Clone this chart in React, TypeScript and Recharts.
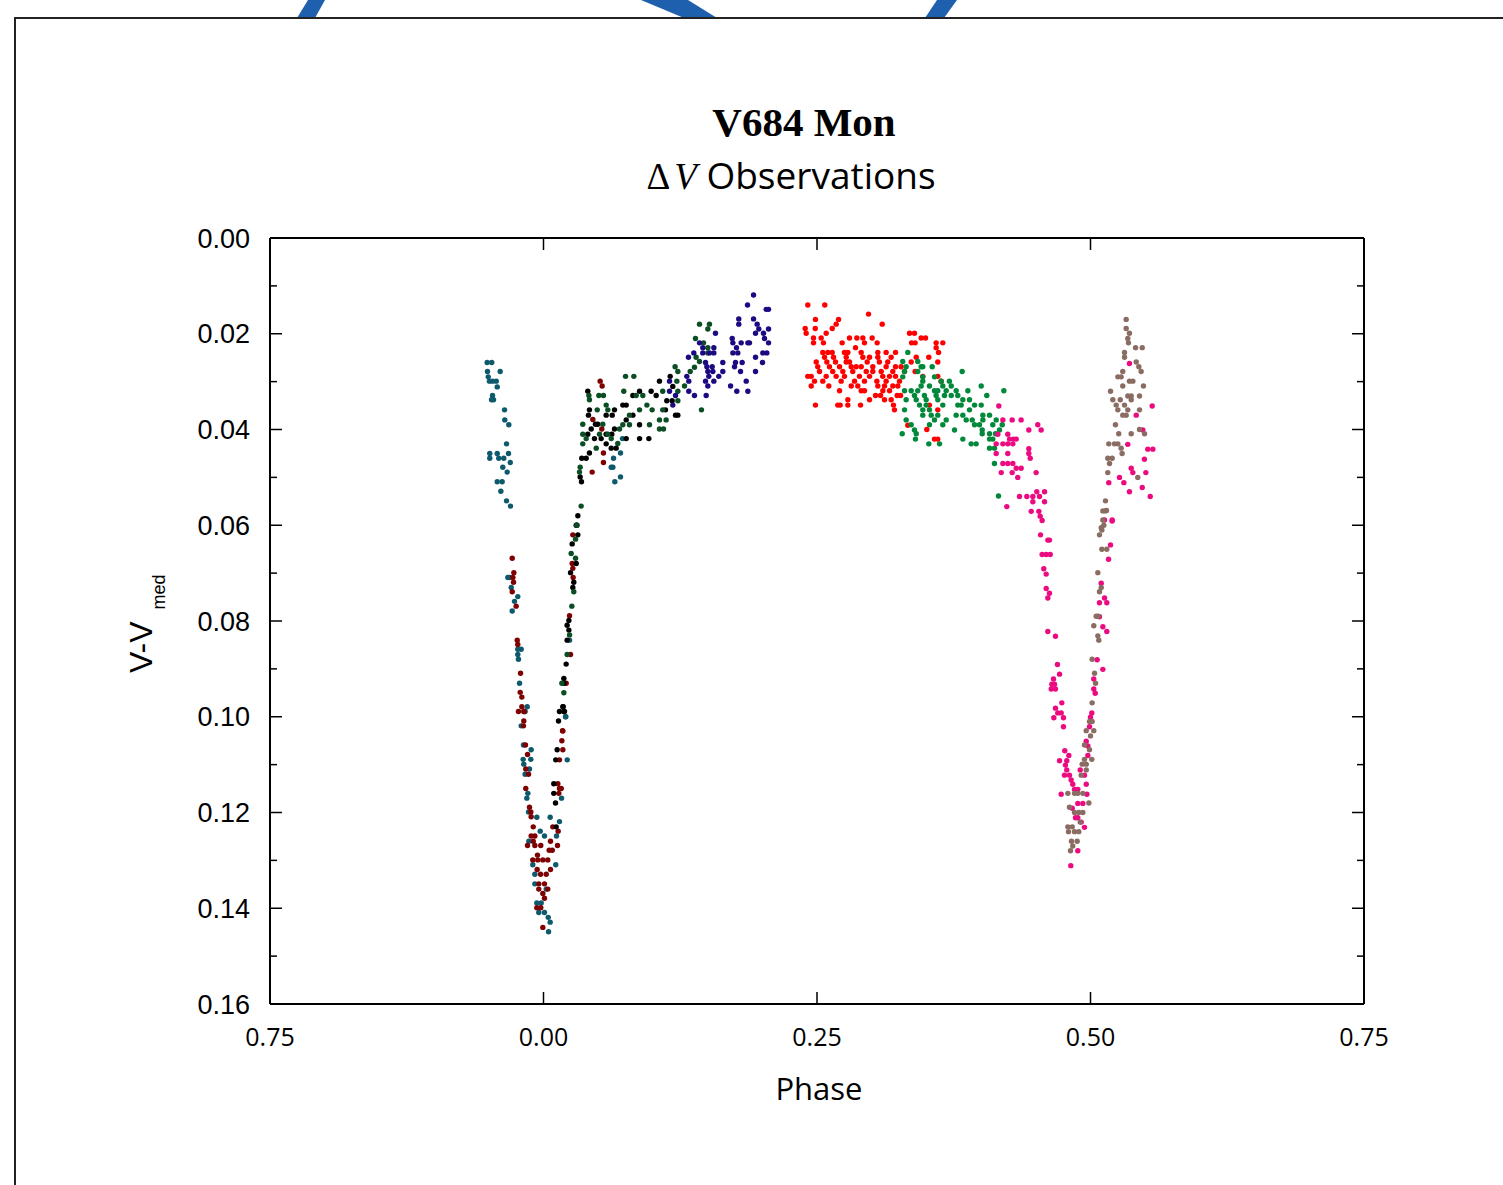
import React from 'react';
import { Scatter, ScatterChart, XAxis, YAxis } from 'recharts';

// phase axis wraps: -0.25 is shown as 0.75
const xTicks = [-0.25, 0, 0.25, 0.5, 0.75];
const xTickLabels = ['0.75', '0.00', '0.25', '0.50', '0.75'];
const yTicks = [0, 0.01, 0.02, 0.03, 0.04, 0.05, 0.06, 0.07, 0.08, 0.09, 0.1, 0.11, 0.12, 0.13, 0.14, 0.15, 0.16];
const yTickLabels = ['0.00', '', '0.02', '', '0.04', '', '0.06', '', '0.08', '', '0.10', '', '0.12', '', '0.14', '', '0.16'];

type Pt = [number, number];

const tealPts: Pt[] = [
  [-0.0515, 0.026], [-0.0473, 0.026], [-0.0512, 0.0279], [-0.0396, 0.0279], [-0.0505, 0.029], [-0.0494, 0.0299],
  [-0.0466, 0.0299], [-0.0432, 0.0299], [-0.0423, 0.0311], [-0.0466, 0.0329], [-0.0457, 0.0338], [-0.0475, 0.0338],
  [-0.0356, 0.0359], [-0.0354, 0.038], [-0.0317, 0.039], [-0.0338, 0.043], [-0.0491, 0.045], [-0.0423, 0.045],
  [-0.032, 0.045], [-0.0491, 0.046], [-0.0409, 0.046], [-0.0363, 0.046], [-0.0304, 0.0469], [-0.0372, 0.0479],
  [-0.0332, 0.0489], [-0.0423, 0.0509], [-0.0378, 0.0509], [-0.039, 0.0529], [-0.0338, 0.0549], [-0.0302, 0.056],
  [0.0722, 0.0419], [0.0704, 0.0449], [0.064, 0.046], [0.0619, 0.0479], [0.0634, 0.0479], [0.0652, 0.0509], [0.0704, 0.0499],
  [-0.0326, 0.0709], [-0.0311, 0.0709], [-0.0295, 0.073], [-0.0235, 0.0749], [-0.0265, 0.0759], [-0.0286, 0.0779],
  [-0.0235, 0.0859], [-0.0204, 0.0859], [-0.0235, 0.087], [-0.0229, 0.088], [-0.0219, 0.093], [-0.0149, 0.0979],
  [-0.0204, 0.1019], [-0.0168, 0.0989], [-0.0183, 0.1059], [-0.0113, 0.1069], [-0.0186, 0.1089], [-0.0116, 0.1089],
  [-0.018, 0.1099], [-0.0128, 0.1109], [-0.0168, 0.112], [-0.0143, 0.116], [-0.0152, 0.117], [-0.0137, 0.1199],
  [-0.0061, 0.121], [0.0061, 0.121], [-0.003, 0.1239], [0.0009, 0.1249], [-0.0134, 0.126], [0.0119, 0.1249],
  [0.0146, 0.1219], [-0.0098, 0.1309], [0.0112, 0.1309], [-0.0079, 0.1329], [-0.0079, 0.1349], [0.0025, 0.136],
  [-0.0061, 0.1389], [-0.0021, 0.1389], [-0.0043, 0.1409], [0.0009, 0.1409], [0.0043, 0.1419], [0.0061, 0.1429],
  [0.0046, 0.1449], [0.0204, 0.1], [0.0217, 0.109], [0.0165, 0.117], [0.0238, 0.084], [0.0201, 0.1],
];

const darkRedPts: Pt[] = [
  [-0.0286, 0.0669], [-0.0271, 0.0699], [-0.028, 0.0709], [-0.0274, 0.0719], [-0.0286, 0.0739], [-0.025, 0.0769],
  [-0.024, 0.084], [-0.0235, 0.0849], [-0.021, 0.0909], [-0.0213, 0.0949], [-0.0198, 0.0959], [-0.0198, 0.0979],
  [-0.0229, 0.0989], [-0.018, 0.0989], [-0.018, 0.1009], [-0.0183, 0.1019], [-0.0177, 0.0989], [-0.0165, 0.1059],
  [-0.0146, 0.1079], [-0.0162, 0.1109], [-0.0137, 0.112], [-0.0162, 0.115], [-0.0128, 0.1189], [-0.0116, 0.1199],
  [-0.0113, 0.1209], [-0.0094, 0.123], [-0.0113, 0.1249], [-0.0079, 0.1249], [-0.0094, 0.126], [-0.0146, 0.1269],
  [-0.0079, 0.1269], [-0.0025, 0.1269], [0.0064, 0.126], [0.0052, 0.1279], [0.008, 0.1279], [0.0128, 0.1269],
  [-0.0055, 0.1289], [-0.0098, 0.1299], [-0.0052, 0.1299], [-0.0006, 0.1299], [0.0039, 0.1299], [-0.0058, 0.1319],
  [0.0064, 0.1319], [-0.0027, 0.1329], [0.0025, 0.1329], [-0.0043, 0.1349], [0.0009, 0.1349], [-0.0043, 0.136],
  [0.0039, 0.136], [-0.0006, 0.1369], [0.0009, 0.1379], [-0.0061, 0.1399], [-0.0025, 0.1399], [-0.0006, 0.144],
  [0.0268, 0.062], [0.0262, 0.068], [0.0268, 0.069], [0.0271, 0.0709], [0.0238, 0.0789], [0.0247, 0.087],
  [0.0207, 0.093], [0.0174, 0.1029], [0.0177, 0.103], [0.0168, 0.105], [0.0177, 0.1069], [0.0146, 0.109],
  [0.0131, 0.114], [0.0146, 0.115], [0.0162, 0.115], [0.014, 0.116], [0.0085, 0.123], [0.0134, 0.1239],
  [0.0518, 0.0299], [0.0536, 0.0309], [0.0451, 0.0379], [0.0533, 0.0399], [0.0548, 0.0449], [0.0548, 0.0469], [0.0445, 0.0489],
];

const blackPts: Pt[] = [
  [0.0305, 0.06], [0.0314, 0.062], [0.0262, 0.0639], [0.0299, 0.068], [0.0247, 0.0699], [0.0277, 0.0719],
  [0.0268, 0.073], [0.0232, 0.0799], [0.0216, 0.0809], [0.0232, 0.0819], [0.0216, 0.084], [0.0207, 0.089],
  [0.0186, 0.092], [0.0186, 0.093], [0.0177, 0.0979], [0.0146, 0.0989], [0.0186, 0.0989], [0.0137, 0.1009],
  [0.018, 0.0979], [0.0192, 0.0989], [0.0125, 0.1069], [0.0112, 0.109], [0.0094, 0.114], [0.0094, 0.116],
  [0.011, 0.118], [0.0116, 0.123],
  [0.0405, 0.032], [0.042, 0.0359], [0.0411, 0.037], [0.0475, 0.0389], [0.0496, 0.0389], [0.0573, 0.037],
  [0.0628, 0.037], [0.0649, 0.0359], [0.0725, 0.0349], [0.0756, 0.0349], [0.0817, 0.0329], [0.0878, 0.032],
  [0.0984, 0.032], [0.106, 0.0299], [0.103, 0.0329], [0.1158, 0.0289], [0.1182, 0.031], [0.1176, 0.034],
  [0.1127, 0.034], [0.1207, 0.037], [0.1228, 0.037], [0.1115, 0.0359], [0.0878, 0.039], [0.0817, 0.037],
  [0.0756, 0.038], [0.0649, 0.0399], [0.0573, 0.041], [0.0624, 0.041], [0.0527, 0.0419], [0.0573, 0.043],
  [0.0756, 0.0419], [0.0878, 0.0419], [0.0963, 0.0419], [0.0619, 0.0439], [0.0664, 0.0439], [0.042, 0.0449],
  [0.035, 0.046], [0.039, 0.046], [0.0335, 0.0499], [0.0347, 0.0509], [0.0436, 0.0399], [0.0405, 0.041],
  [0.0466, 0.0419], [0.0314, 0.058], [0.0299, 0.06],
];

const darkGreenPts: Pt[] = [
  [0.1426, 0.018], [0.1517, 0.018], [0.1502, 0.019], [0.1389, 0.021], [0.1463, 0.0219], [0.1502, 0.0229],
  [0.1502, 0.024], [0.1395, 0.0249], [0.1426, 0.0258], [0.1341, 0.0279], [0.138, 0.027], [0.1203, 0.0269],
  [0.1228, 0.0279], [0.1219, 0.0299], [0.1289, 0.0309], [0.109, 0.032], [0.1228, 0.032], [0.1228, 0.034],
  [0.1444, 0.0359], [0.109, 0.0359], [0.106, 0.038], [0.1121, 0.038], [0.106, 0.0399], [0.1097, 0.0399],
  [0.0993, 0.0359], [0.0945, 0.0349], [0.0969, 0.039], [0.0878, 0.0359], [0.0847, 0.0329], [0.0908, 0.0329],
  [0.0734, 0.032], [0.075, 0.0289], [0.0826, 0.0289], [0.0786, 0.037], [0.0786, 0.039], [0.0725, 0.039],
  [0.0695, 0.0399], [0.0573, 0.0349], [0.0588, 0.0359], [0.0491, 0.0359], [0.0506, 0.0329], [0.0548, 0.0329],
  [0.0415, 0.0329], [0.042, 0.0338], [0.0359, 0.0389], [0.0359, 0.041], [0.039, 0.0419], [0.0359, 0.043],
  [0.0482, 0.0439], [0.0588, 0.041], [0.0619, 0.0419], [0.0542, 0.0389], [0.0679, 0.0429], [0.0512, 0.041],
  [0.0335, 0.0479], [0.0329, 0.0489], [0.0344, 0.056],
  [0.0305, 0.06], [0.0293, 0.0629], [0.0253, 0.0659], [0.0293, 0.0669], [0.0277, 0.0739], [0.0259, 0.0769],
  [0.0238, 0.0829], [0.0216, 0.087], [0.0168, 0.093], [0.0186, 0.095],
];

const navyPts: Pt[] = [
  [0.192, 0.0119], [0.1865, 0.014], [0.2036, 0.0149], [0.2057, 0.0149], [0.1785, 0.0169], [0.192, 0.0169],
  [0.1953, 0.018], [0.1785, 0.018], [0.1968, 0.019], [0.2057, 0.019], [0.1572, 0.0199], [0.1938, 0.0199],
  [0.2011, 0.0199], [0.1725, 0.021], [0.202, 0.021], [0.1731, 0.0219], [0.1807, 0.0219], [0.1868, 0.0219],
  [0.1883, 0.0219], [0.2057, 0.0219], [0.1426, 0.0219], [0.1456, 0.0229], [0.1764, 0.0229], [0.1557, 0.0229],
  [0.1374, 0.024], [0.1456, 0.024], [0.1517, 0.024], [0.1557, 0.024], [0.1731, 0.024], [0.1776, 0.024],
  [0.2005, 0.024], [0.2041, 0.024], [0.1325, 0.0249], [0.1938, 0.0249], [0.1481, 0.026], [0.1639, 0.026],
  [0.1755, 0.026], [0.1816, 0.026], [0.2002, 0.026], [0.1493, 0.0269], [0.1542, 0.0269], [0.1746, 0.0269],
  [0.1502, 0.0279], [0.1548, 0.0279], [0.1639, 0.0279], [0.1801, 0.0279], [0.1938, 0.0279], [0.131, 0.0289],
  [0.1511, 0.0289], [0.1602, 0.0289], [0.1481, 0.0299], [0.1557, 0.0299], [0.1853, 0.0299], [0.1152, 0.0299],
  [0.1328, 0.0299], [0.1502, 0.0309], [0.171, 0.0309], [0.1767, 0.032], [0.1868, 0.032], [0.1328, 0.032],
  [0.1152, 0.032], [0.138, 0.0329], [0.1487, 0.0329], [0.1207, 0.0329], [0.1182, 0.0349],
];

const redPts: Pt[] = [
  [0.2416, 0.014], [0.2571, 0.014], [0.2971, 0.0159], [0.2486, 0.017], [0.2697, 0.017], [0.2675, 0.018],
  [0.3096, 0.018], [0.2392, 0.0189], [0.2484, 0.0189], [0.2639, 0.0189], [0.2401, 0.0199], [0.2584, 0.0199],
  [0.3346, 0.0199], [0.3391, 0.0199], [0.2468, 0.0209], [0.2538, 0.0209], [0.2797, 0.0209], [0.2864, 0.0209],
  [0.2919, 0.0209], [0.3004, 0.0209], [0.3452, 0.0209], [0.3492, 0.0209],
  [0.2468, 0.0219], [0.2559, 0.0219], [0.273, 0.0219], [0.2934, 0.0219], [0.305, 0.0219], [0.3364, 0.0219],
  [0.3397, 0.0219], [0.3589, 0.0219], [0.365, 0.0219], [0.2852, 0.0229], [0.3589, 0.0229],
  [0.2553, 0.0239], [0.2599, 0.0239], [0.2639, 0.0239], [0.2751, 0.0239], [0.2782, 0.0239], [0.2904, 0.0239],
  [0.3056, 0.0239], [0.3132, 0.0239], [0.3218, 0.0239], [0.3611, 0.0239],
  [0.2569, 0.0249], [0.2651, 0.0249], [0.2767, 0.0249], [0.2919, 0.0249], [0.298, 0.0249], [0.3056, 0.0249],
  [0.3178, 0.0249], [0.3407, 0.0249], [0.3522, 0.0249],
  [0.2493, 0.0259], [0.259, 0.0259], [0.2669, 0.0259], [0.2767, 0.0259], [0.2797, 0.0259], [0.2959, 0.0259],
  [0.307, 0.0259], [0.3147, 0.0259], [0.3361, 0.0259], [0.3604, 0.0259],
  [0.2507, 0.0269], [0.2614, 0.0269], [0.2706, 0.0269], [0.2813, 0.0269], [0.2858, 0.0269], [0.2904, 0.0269],
  [0.301, 0.0269], [0.3132, 0.0269], [0.3218, 0.0269], [0.3269, 0.0269],
  [0.2523, 0.0279], [0.2644, 0.0279], [0.2736, 0.0279], [0.2827, 0.0279], [0.295, 0.0279], [0.301, 0.0279],
  [0.3087, 0.0279], [0.3193, 0.0279], [0.33, 0.0279], [0.3397, 0.0279],
  [0.2416, 0.0289], [0.2447, 0.0289], [0.2584, 0.0289], [0.2675, 0.0289], [0.2751, 0.0289], [0.2888, 0.0289],
  [0.298, 0.0289], [0.3101, 0.0289], [0.3163, 0.0289], [0.3218, 0.0289], [0.3467, 0.0289], [0.3604, 0.0289],
  [0.2477, 0.0299], [0.2553, 0.0299], [0.2721, 0.0299], [0.2843, 0.0299], [0.2934, 0.0299], [0.3047, 0.0299],
  [0.3132, 0.0299], [0.3254, 0.0299], [0.3635, 0.0299],
  [0.2447, 0.0309], [0.2608, 0.0309], [0.2813, 0.0309], [0.2873, 0.0309], [0.3056, 0.0309], [0.3117, 0.0309],
  [0.3193, 0.0309], [0.3239, 0.0309],
  [0.2706, 0.0319], [0.2904, 0.0319], [0.2934, 0.0319], [0.3102, 0.0319], [0.3163, 0.0319],
  [0.3035, 0.0329], [0.3081, 0.0329], [0.3233, 0.0329], [0.3264, 0.0329],
  [0.2782, 0.0338], [0.298, 0.0338], [0.3117, 0.0338], [0.3178, 0.0338],
  [0.2486, 0.0349], [0.269, 0.0349], [0.2712, 0.0349], [0.2782, 0.0349], [0.2898, 0.0349], [0.3199, 0.0349], [0.3528, 0.0349],
  [0.3208, 0.0359], [0.3604, 0.0359], [0.333, 0.0391], [0.3504, 0.04], [0.3574, 0.042], [0.3604, 0.042],
];

const greenPts: Pt[] = [
  [0.333, 0.0239], [0.3284, 0.0258], [0.3421, 0.0258],
  [0.3315, 0.0269], [0.3452, 0.0269], [0.3467, 0.0269], [0.3553, 0.0269],
  [0.33, 0.0279], [0.3421, 0.0279], [0.3827, 0.0279],
  [0.3284, 0.029], [0.3467, 0.029], [0.3574, 0.029],
  [0.3467, 0.0299], [0.371, 0.0299], [0.3635, 0.0299],
  [0.3452, 0.0309], [0.3528, 0.0309], [0.365, 0.0309], [0.3727, 0.0309], [0.4001, 0.0309],
  [0.33, 0.0319], [0.3361, 0.0319], [0.3421, 0.0319], [0.3574, 0.0319], [0.3604, 0.0319], [0.3681, 0.0319],
  [0.3772, 0.0319], [0.3879, 0.0319], [0.4208, 0.0319],
  [0.3391, 0.0329], [0.3482, 0.0329], [0.3589, 0.0329], [0.3665, 0.0329], [0.3727, 0.0329], [0.3787, 0.0329], [0.4052, 0.0329],
  [0.3315, 0.0338], [0.3407, 0.0338], [0.3498, 0.0338], [0.3604, 0.0338], [0.3833, 0.0338], [0.3894, 0.0338],
  [0.3437, 0.0349], [0.3498, 0.0349], [0.365, 0.0349], [0.3787, 0.0349], [0.3818, 0.0349], [0.394, 0.0349], [0.4001, 0.0349],
  [0.33, 0.0359], [0.3467, 0.0359], [0.3528, 0.0359], [0.3894, 0.0359],
  [0.3467, 0.037], [0.3544, 0.037], [0.3604, 0.037], [0.3772, 0.037], [0.3833, 0.037], [0.4016, 0.037], [0.4077, 0.037],
  [0.3315, 0.038], [0.3574, 0.038], [0.3681, 0.038], [0.3864, 0.038], [0.3919, 0.038], [0.4016, 0.038], [0.4138, 0.038],
  [0.3361, 0.039], [0.3528, 0.039], [0.365, 0.039], [0.394, 0.039], [0.3985, 0.039], [0.4107, 0.039], [0.4193, 0.039],
  [0.3391, 0.0401], [0.3757, 0.0401], [0.401, 0.0401], [0.4168, 0.0401],
  [0.3279, 0.0409], [0.3407, 0.0409], [0.401, 0.0409], [0.4077, 0.0409], [0.4132, 0.0409],
  [0.34, 0.042], [0.3833, 0.042], [0.4077, 0.042], [0.4107, 0.042],
  [0.3522, 0.043], [0.362, 0.043], [0.3909, 0.043], [0.3955, 0.043],
  [0.4077, 0.0439], [0.4122, 0.0439], [0.4122, 0.0471], [0.4159, 0.0539],
];

const magentaPts: Pt[] = [
  [0.4162, 0.0351], [0.4199, 0.038], [0.4284, 0.038], [0.4366, 0.038], [0.4436, 0.0401], [0.4518, 0.039],
  [0.4549, 0.0401], [0.4153, 0.041], [0.4244, 0.041], [0.426, 0.042], [0.4296, 0.042], [0.4321, 0.042],
  [0.4138, 0.043], [0.4199, 0.043], [0.4244, 0.043], [0.429, 0.043], [0.4436, 0.044], [0.4138, 0.045],
  [0.4244, 0.045], [0.4436, 0.045], [0.4199, 0.0471], [0.4244, 0.0471], [0.429, 0.0471], [0.4449, 0.046],
  [0.4321, 0.0481], [0.4366, 0.0481], [0.4184, 0.049], [0.4284, 0.049], [0.4503, 0.049], [0.4335, 0.05],
  [0.4509, 0.053], [0.458, 0.053], [0.4351, 0.054], [0.4418, 0.054], [0.4473, 0.054], [0.4534, 0.054],
  [0.4473, 0.0551], [0.458, 0.0551], [0.4235, 0.0561], [0.4458, 0.0571], [0.4528, 0.0571], [0.454, 0.0581],
  [0.4558, 0.059],
  [0.5356, 0.0262], [0.5418, 0.037], [0.5564, 0.0351], [0.5478, 0.0401], [0.5341, 0.0431], [0.5524, 0.0441],
  [0.557, 0.0441], [0.5493, 0.0462], [0.5167, 0.0511], [0.5265, 0.05], [0.5305, 0.0511], [0.5372, 0.0481],
  [0.5387, 0.049], [0.5506, 0.049], [0.5356, 0.053], [0.5473, 0.0521], [0.5546, 0.054], [0.5128, 0.0589], [0.5198, 0.0589],
  [0.4543, 0.062], [0.461, 0.0631], [0.4625, 0.0631], [0.4558, 0.0661], [0.4595, 0.0661], [0.4632, 0.0661],
  [0.4573, 0.0691], [0.4595, 0.0702], [0.4595, 0.0732], [0.4625, 0.0742], [0.461, 0.0752], [0.461, 0.0822],
  [0.468, 0.0832], [0.4698, 0.0891], [0.4717, 0.0911], [0.4662, 0.0921], [0.4647, 0.0932], [0.4671, 0.0932],
  [0.4641, 0.0942], [0.468, 0.0942], [0.4738, 0.0971], [0.468, 0.0982], [0.4701, 0.0992], [0.4732, 0.0992],
  [0.4665, 0.1002], [0.4753, 0.1002], [0.4753, 0.1021], [0.4765, 0.1071], [0.4802, 0.1081], [0.4717, 0.1092],
  [0.4783, 0.1092], [0.4771, 0.1101], [0.4783, 0.1111], [0.4762, 0.1122], [0.4808, 0.1122], [0.4823, 0.1132],
  [0.4838, 0.1141], [0.4854, 0.1152], [0.4884, 0.1152], [0.4732, 0.1162], [0.4906, 0.1111], [0.4945, 0.1122],
  [0.4961, 0.1141], [0.4967, 0.1162], [0.4884, 0.1181], [0.493, 0.1181], [0.4833, 0.1191], [0.4863, 0.1211],
  [0.4884, 0.1211], [0.4915, 0.122], [0.4945, 0.1231], [0.4884, 0.128], [0.482, 0.1311],
  [0.5198, 0.0591], [0.5183, 0.0641], [0.5165, 0.0671], [0.5098, 0.0721], [0.5082, 0.0762], [0.5149, 0.0762],
  [0.5128, 0.0752], [0.5082, 0.0791], [0.5113, 0.0812], [0.5149, 0.0822], [0.5061, 0.0881], [0.5113, 0.0901],
  [0.503, 0.0921], [0.503, 0.0942], [0.5043, 0.0951], [0.5012, 0.0992], [0.5, 0.1001], [0.4991, 0.1021],
  [0.4961, 0.1051], [0.4976, 0.1061], [0.4976, 0.1081],
];

const brownPts: Pt[] = [
  [0.5326, 0.017], [0.5326, 0.0189], [0.5356, 0.0199], [0.5341, 0.021], [0.5347, 0.0219], [0.5412, 0.0229],
  [0.5473, 0.0229], [0.5311, 0.0239], [0.5311, 0.0249], [0.5418, 0.0259], [0.5442, 0.0269], [0.5463, 0.0279],
  [0.5295, 0.0279], [0.525, 0.029], [0.528, 0.029], [0.5356, 0.0299], [0.5387, 0.0299], [0.5295, 0.0309],
  [0.5484, 0.0309], [0.5183, 0.032], [0.5341, 0.033], [0.5372, 0.033], [0.5448, 0.033], [0.5204, 0.0338],
  [0.5272, 0.0338], [0.5372, 0.0338], [0.5235, 0.0349], [0.5311, 0.0349], [0.525, 0.0359], [0.5341, 0.0359],
  [0.5448, 0.0359], [0.5295, 0.037], [0.5326, 0.037], [0.5228, 0.039], [0.5448, 0.04], [0.5258, 0.0409],
  [0.5372, 0.0409], [0.5494, 0.0409], [0.5167, 0.043], [0.5219, 0.043], [0.525, 0.043], [0.528, 0.0439],
  [0.5289, 0.045], [0.5158, 0.046], [0.5198, 0.046], [0.5174, 0.0471], [0.5158, 0.049], [0.5432, 0.05],
  [0.5137, 0.0549], [0.5113, 0.057], [0.5137, 0.057], [0.5113, 0.0589], [0.5098, 0.0605],
  [0.5146, 0.0569], [0.5122, 0.06], [0.5104, 0.061], [0.5082, 0.062], [0.5104, 0.065], [0.5149, 0.065],
  [0.5067, 0.0699], [0.5098, 0.073], [0.5082, 0.0739], [0.5052, 0.079], [0.507, 0.079], [0.503, 0.081],
  [0.5067, 0.0831], [0.5076, 0.084], [0.5015, 0.088], [0.5037, 0.0909], [0.5046, 0.093], [0.5015, 0.0971],
  [0.4991, 0.101], [0.5015, 0.101], [0.4961, 0.1029], [0.503, 0.1029], [0.5, 0.104], [0.4945, 0.1059],
  [0.4991, 0.1069], [0.4945, 0.1089], [0.5012, 0.1089], [0.4924, 0.1099], [0.4961, 0.1099], [0.4961, 0.1111],
  [0.4915, 0.1122], [0.4793, 0.116], [0.4854, 0.116], [0.4884, 0.116], [0.493, 0.116], [0.4985, 0.118],
  [0.4808, 0.1189], [0.4854, 0.12], [0.4893, 0.12], [0.493, 0.12], [0.4906, 0.122], [0.4793, 0.123],
  [0.4833, 0.123], [0.4799, 0.124], [0.4854, 0.124], [0.4893, 0.124], [0.4826, 0.126], [0.4878, 0.126],
  [0.4838, 0.127], [0.4817, 0.128],
];

const series = [
  { name: 'teal', color: '#0d5a6d', pts: tealPts },
  { name: 'darkred', color: '#7e0000', pts: darkRedPts },
  { name: 'black', color: '#000000', pts: blackPts },
  { name: 'darkgreen', color: '#0b4e24', pts: darkGreenPts },
  { name: 'navy', color: '#1c0a82', pts: navyPts },
  { name: 'red', color: '#ff0000', pts: redPts },
  { name: 'green', color: '#00893a', pts: greenPts },
  { name: 'magenta', color: '#ec0a80', pts: magentaPts },
  { name: 'brown', color: '#8a6c62', pts: brownPts },
];

const sans = "'Liberation Sans', Arial, sans-serif";
const open = "'Open Sans', 'Noto Sans', sans-serif";
const serif = "'Liberation Serif', 'Times New Roman', serif";

const BottomTick = ({ x, y, index }: any) => (
  <g>
    <line x1={x} y1={y} x2={x} y2={y - 12} stroke="#000" strokeWidth={1.5} />
    <text x={x} y={y + 42} textAnchor="middle" fontFamily={open} fontSize={25} fill="#000">
      {xTickLabels[index]}
    </text>
  </g>
);

const TopTick = ({ x, y }: any) => (
  <line x1={x} y1={y} x2={x} y2={y + 12} stroke="#000" strokeWidth={1.5} />
);

const LeftTick = ({ x, y, index }: any) => {
  const label = yTickLabels[index];
  return (
    <g>
      <line x1={x} y1={y} x2={x + (label ? 12 : 7)} y2={y} stroke="#000" strokeWidth={1.5} />
      {label && (
        <text x={x - 20} y={y + 9.5} textAnchor="end" fontFamily={sans} fontSize={27} fill="#000">
          {label}
        </text>
      )}
    </g>
  );
};

const RightTick = ({ x, y, index }: any) => (
  <line x1={x} y1={y} x2={x - (yTickLabels[index] ? 12 : 7)} y2={y} stroke="#000" strokeWidth={1.5} />
);

const axisLine = { stroke: '#000', strokeWidth: 2 };

export default function App() {
  return (
    <div style={{ position: 'absolute', left: 0, top: 0, width: 1503, height: 1185, background: '#fff' }}>
      <ScatterChart width={1503} height={1185} margin={{ top: 237, right: 138, bottom: 180, left: 269 }}>
        <XAxis xAxisId="b" type="number" dataKey="x" domain={[-0.25, 0.75]} ticks={xTicks} interval={0}
          allowDataOverflow height={1} tickSize={0} tickMargin={0} tickLine={false} axisLine={axisLine}
          tick={(p: any) => <BottomTick {...p} />} />
        <XAxis xAxisId="t" orientation="top" type="number" dataKey="x" domain={[-0.25, 0.75]} ticks={xTicks}
          interval={0} allowDataOverflow height={1} tickSize={0} tickMargin={0} tickLine={false}
          axisLine={axisLine} tick={(p: any) => <TopTick {...p} />} />
        <YAxis yAxisId="l" type="number" dataKey="y" domain={[0, 0.16]} reversed ticks={yTicks} interval={0}
          allowDataOverflow width={1} tickSize={0} tickMargin={0} tickLine={false} axisLine={axisLine}
          tick={(p: any) => <LeftTick {...p} />} />
        <YAxis yAxisId="r" orientation="right" type="number" dataKey="y" domain={[0, 0.16]} reversed
          ticks={yTicks} interval={0} allowDataOverflow width={1} tickSize={0} tickMargin={0} tickLine={false}
          axisLine={axisLine} tick={(p: any) => <RightTick {...p} />} />
        {series.map((s) => (
          <Scatter
            key={s.name}
            name={s.name}
            xAxisId="b"
            yAxisId="l"
            data={s.pts.map(([x, y]) => ({ x, y }))}
            isAnimationActive={false}
            shape={(p: any) => <circle cx={p.cx} cy={p.cy} r={2.7} fill={s.color} />}
          />
        ))}
      </ScatterChart>

      <svg width={1503} height={1185} style={{ position: 'absolute', left: 0, top: 0, pointerEvents: 'none' }}>
        <polygon points="308,0 325,0 315,18 297,18" fill="#1e5fae" />
        <polygon points="641,0 688,0 717,18 684,18" fill="#1e5fae" />
        <polygon points="937,0 957,0 944,18 925,18" fill="#1e5fae" />
        <line x1={15} y1={18} x2={1503} y2={18} stroke="#222" strokeWidth={2} />
        <line x1={15} y1={17} x2={15} y2={1185} stroke="#222" strokeWidth={2} />
        <text x={804} y={136} textAnchor="middle" fontFamily={serif} fontWeight="bold" fontSize={41} fill="#000">
          V684 Mon
        </text>
        <text x={791} y={189} textAnchor="middle" fontSize={37} fill="#000">
          <tspan fontFamily={serif}>Δ</tspan>
          <tspan dx={4} fontFamily={serif} fontStyle="italic">V</tspan>
          <tspan fontFamily={open}> Observations</tspan>
        </text>
        <text x={819} y={1100} textAnchor="middle" fontFamily={open} fontSize={31} fill="#000">
          Phase
        </text>
        <text x={152} y={673} transform="rotate(-90 152 673)" fontFamily={sans} fontSize={32} fill="#000">
          V-V
          <tspan dx={12} dy={13} fontSize={18}>med</tspan>
        </text>
      </svg>
    </div>
  );
}
